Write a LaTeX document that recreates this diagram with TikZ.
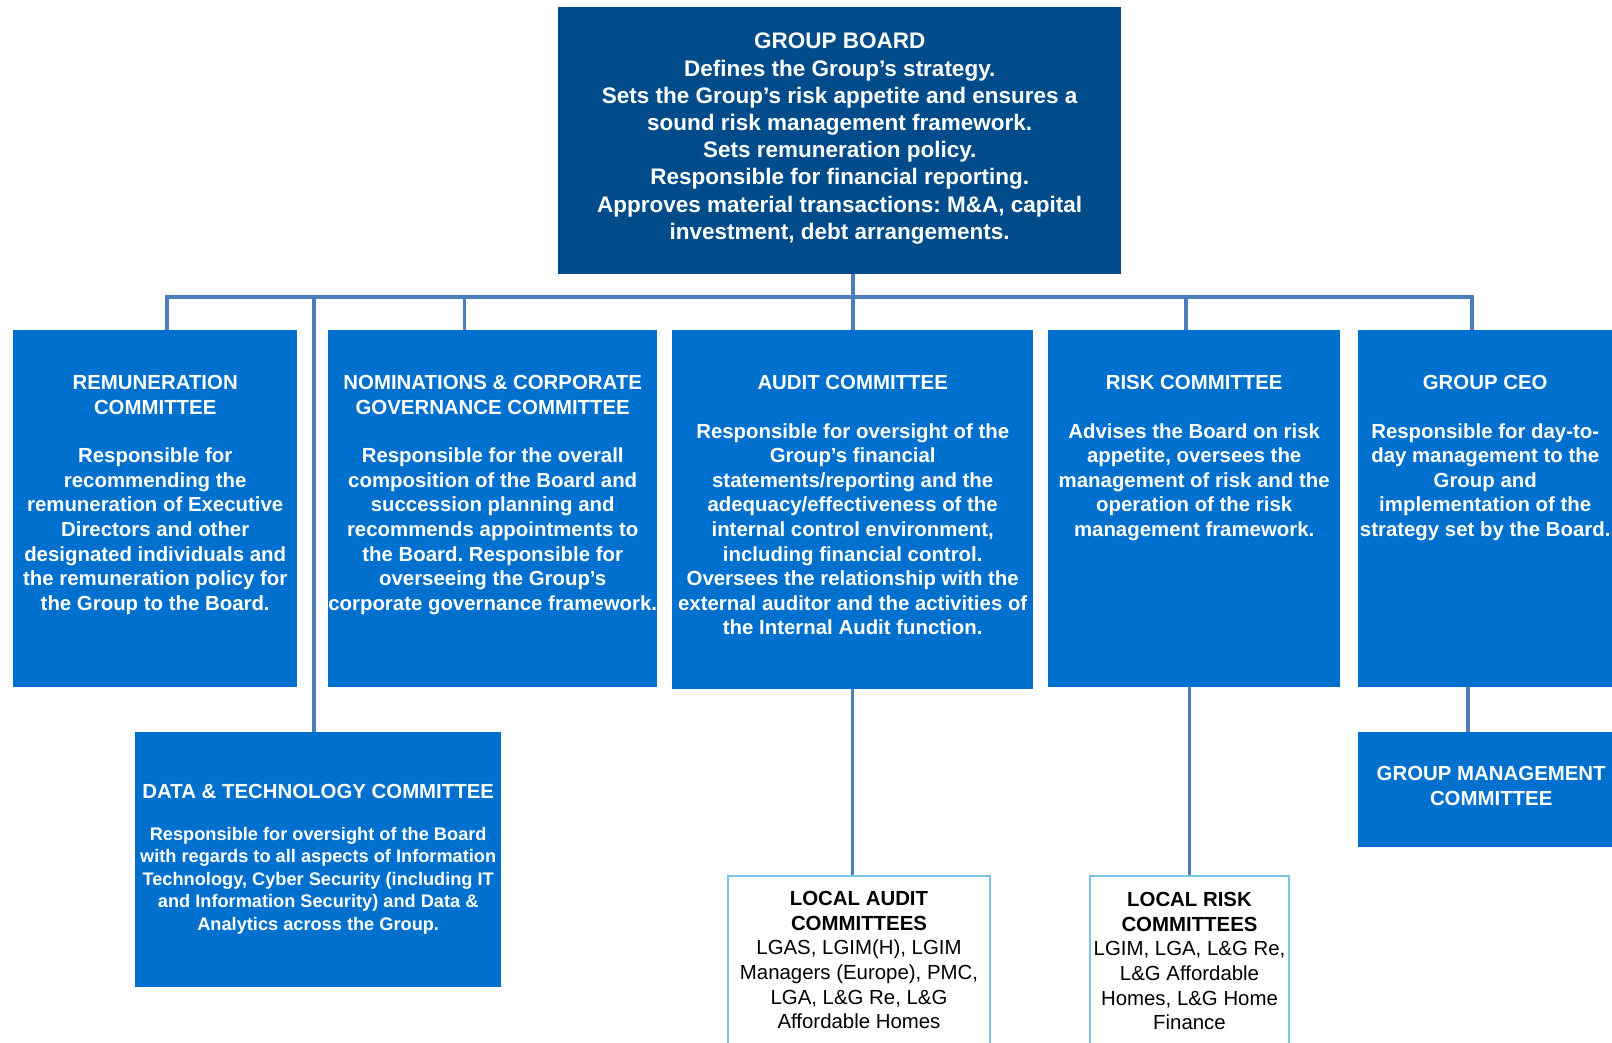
\documentclass[tikz,border=0pt]{standalone}
\usepackage{fontspec}
\setmainfont{Liberation Sans}
\usetikzlibrary{positioning}
\frenchspacing

\definecolor{boardblue}{RGB}{0,76,138}
\definecolor{combl}{RGB}{0,112,206}
\definecolor{linkblue}{RGB}{77,125,186}
\definecolor{localbl}{RGB}{122,196,234}

\tikzstyle{boardbox} = [rectangle, fill=boardblue, anchor=north west, inner sep=0pt]
\tikzstyle{combox} = [rectangle, fill=combl, anchor=north west, inner sep=0pt]
\tikzstyle{localbox} = [rectangle, draw=localbl, line width=2pt, fill=white, anchor=north west, inner sep=0pt]
\tikzstyle{boardtext} = [text=white, align=center, inner sep=0pt, font=\bfseries\fontsize{22.5}{27.2}\selectfont]
\tikzstyle{comtext} = [text=white, align=center, inner sep=0pt, font=\bfseries\fontsize{20.4}{24.6}\selectfont]
\tikzstyle{smalltext} = [text=white, align=center, inner sep=0pt, font=\bfseries\fontsize{18.2}{22.4}\selectfont]
\tikzstyle{localtext} = [text=black, align=center, inner sep=0pt, font=\fontsize{20.4}{24.7}\selectfont]
\tikzstyle{link} = [line width=3.5pt, draw=linkblue]

\begin{document}
\begin{tikzpicture}[x=1pt, y=-1pt]
  \useasboundingbox (0,0) rectangle (1612,1042);
  \clip (0,0) rectangle (1612,1042);

  % boxes
  \node (board) [boardbox, minimum width=563pt, minimum height=267pt] at (558,7) {};
  \node (rem) [combox, minimum width=284pt, minimum height=357pt] at (13,330) {};
  \node (nom) [combox, minimum width=329pt, minimum height=357pt] at (328,330) {};
  \node (aud) [combox, minimum width=361pt, minimum height=359pt] at (672,330) {};
  \node (risk) [combox, minimum width=292pt, minimum height=357pt] at (1048,330) {};
  \node (ceo) [combox, minimum width=266pt, minimum height=357pt] at (1358,330) {};
  \node (dt) [combox, minimum width=366pt, minimum height=255pt] at (135,732) {};
  \node (gmc) [combox, minimum width=266pt, minimum height=115pt] at (1358,732) {};
  \node (la) [localbox, minimum width=262pt, minimum height=200pt] at (727,875) {};
  \node (lr) [localbox, minimum width=199pt, minimum height=200pt] at (1089,875) {};

  % texts
  \node (boardtxt) [boardtext, below=26pt of board.north] {GROUP BOARD\\ Defines the Group’s strategy.\\ Sets the Group’s risk appetite and ensures a\\ sound risk management framework.\\ Sets remuneration policy.\\ Responsible for financial reporting.\\ Approves material transactions: M\&A, capital\\ investment, debt arrangements.};

  \node (remtxt) [comtext, below=45pt of rem.north] {REMUNERATION\\ COMMITTEE\\[24pt] Responsible for\\ recommending the\\ remuneration of Executive\\ Directors and other\\ designated individuals and\\ the remuneration policy for\\ the Group to the Board.};

  \node (nomtxt) [comtext, below=45pt of nom.north] {NOMINATIONS \& CORPORATE\\ GOVERNANCE COMMITTEE\\[24pt] Responsible for the overall\\ composition of the Board and\\ succession planning and\\ recommends appointments to\\ the Board. Responsible for\\ overseeing the Group’s\\ corporate governance framework.};

  \node (audtxt) [comtext, below=45pt of aud.north] {AUDIT COMMITTEE\\[24pt] Responsible for oversight of the\\ Group’s financial\\ statements/reporting and the\\ adequacy/effectiveness of the\\ internal control environment,\\ including financial control.\\ Oversees the relationship with the\\ external auditor and the activities of\\ the Internal Audit function.};

  \node (risktxt) [comtext, below=45pt of risk.north] {RISK COMMITTEE\\[24pt] Advises the Board on risk\\ appetite, oversees the\\ management of risk and the\\ operation of the risk\\ management framework.};

  \node (ceotxt) [comtext, below=45pt of ceo.north, xshift=-6pt] {GROUP CEO\\[24pt] Responsible for day-to-\\ day management to the\\ Group and\\ implementation of the\\ strategy set by the Board.};

  \node (dthead) [comtext, below=52pt of dt.north] {DATA \& TECHNOLOGY COMMITTEE};
  \node (dtbody) [smalltext, below=95pt of dt.north] {Responsible for oversight of the Board\\ with regards to all aspects of Information\\ Technology, Cyber Security (including IT\\ and Information Security) and Data \&\\ Analytics across the Group.};

  \node (gmctxt) [comtext, below=34pt of gmc.north] {GROUP MANAGEMENT\\ COMMITTEE};

  \node (latxt) [localtext, below=16pt of la.north] {\bfseries LOCAL AUDIT\\ \bfseries COMMITTEES\\ LGAS, LGIM(H), LGIM\\ Managers (Europe), PMC,\\ LGA, L\&G Re, L\&G\\ Affordable Homes};

  \node (lrtxt) [localtext, below=17pt of lr.north] {\bfseries LOCAL RISK\\ \bfseries COMMITTEES\\ LGIM, LGA, L\&G Re,\\ L\&G Affordable\\ Homes, L\&G Home\\ Finance};

  % connectors
  \coordinate (bus) at (853,297);
  \draw [link] (bus |- board.south) -- (bus);
  \draw [link] ([xshift=12pt]rem.north) |- (bus) -| ([xshift=-19pt]ceo.north);
  \draw [link] ([xshift=-28pt]nom.north) |- (bus);
  \draw [link] ([xshift=-4pt]dt.north) |- (bus);
  \draw [link] (bus |- aud.north) -- (bus);
  \draw [link] ([xshift=-8pt]risk.north) |- (bus);
  \draw [link] (aud.south) -- (aud.south |- la.north);
  \draw [link] (lr.north) -- (lr.north |- risk.south);
  \coordinate (ceodrop) at ([xshift=-23pt]ceo.south);
  \draw [link] (ceodrop) -- (ceodrop |- gmc.north);
\end{tikzpicture}
\end{document}
